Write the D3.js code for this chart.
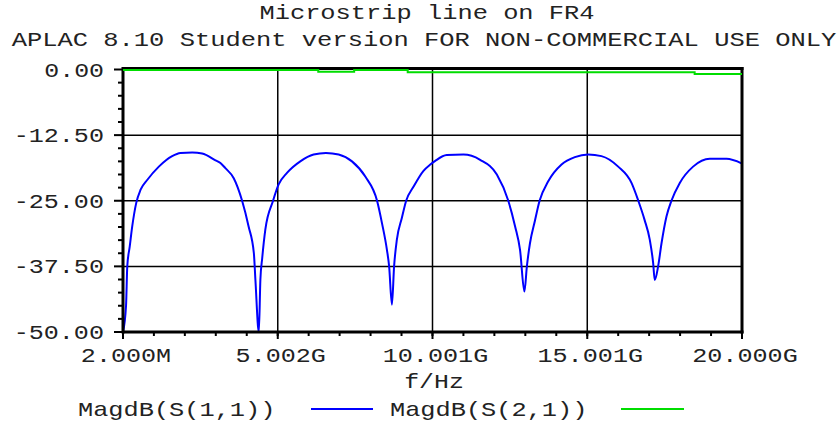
<!DOCTYPE html>
<html>
<head>
<meta charset="utf-8">
<script src="https://cdn.jsdelivr.net/npm/d3@7"></script>
<style>
  body { margin: 0; background: #fff; }
  text { font-family: "Liberation Mono", "DejaVu Sans Mono", monospace; fill: #222; }
</style>
</head>
<body>
<div id="chart"></div>
<script>
// frequency in GHz, magnitude in dB
const s11Freq = [0.002, 0.1, 0.14, 0.22, 0.30, 0.43, 0.57, 0.79, 1.16, 1.59, 1.86, 2.24, 2.56, 2.99, 3.15, 3.31,
  3.58, 3.85, 4.06, 4.23, 4.28, 4.39, 4.44, 4.50, 4.60, 4.85, 5.03, 5.30, 5.73, 6.16, 6.56, 6.97, 7.40, 7.83,
  8.21, 8.37, 8.53, 8.60, 8.69, 8.76, 8.85, 9.01, 9.15, 9.39, 9.71, 9.93, 10.09, 10.46, 11.0, 11.54, 12.08,
  12.45, 12.67, 12.83, 12.97, 13.05, 13.15, 13.31, 13.46, 13.74, 14.17, 14.6, 15.03, 15.46, 16.0, 16.43,
  16.65, 16.85, 17.02, 17.13, 17.18, 17.29, 17.40, 17.56, 17.72, 17.99, 18.42, 18.96, 19.5, 20.0];
const s11Db = [-50, -45, -37.5, -33.7, -29.9, -25.4, -22.9, -21.0, -18.5, -16.5, -15.9, -15.8, -16.0, -17.3, -17.8, -18.8,
  -20.7, -25.0, -29.9, -35.0, -40.1, -50, -40.1, -35.9, -30.5, -25.0, -21.9, -19.7, -17.5, -16.2, -15.9, -16.2, -17.5, -20.4,
  -25.0, -29.3, -34.4, -37.5, -44.8, -37.5, -32.4, -28.3, -25.0, -22.3, -19.3, -18.1, -17.4, -16.3, -16.2, -17.2, -20.0,
  -25.0, -29.9, -34.4, -42.3, -37.5, -33.1, -28.8, -25.0, -21.3, -18.1, -16.7, -16.2, -16.5, -18.5, -21.6,
  -25.0, -28.6, -32.4, -36.9, -40.1, -37.5, -33.1, -28.0, -25.0, -21.6, -18.5, -17.0, -17.0, -17.9];

const s21Freq = [0.002, 6.31, 6.31, 7.47, 7.47, 9.2, 9.2, 18.47, 18.47, 20.0];
const s21Db = [-0.1, -0.1, -0.45, -0.45, -0.1, -0.1, -0.5, -0.5, -0.85, -0.85];

const xTicks = [0.002, 5.002, 10.001, 15.001, 20.0];
const xTickLabels = ["2.000M", "5.002G", "10.001G", "15.001G", "20.000G"];
const yTicks = [0, -12.5, -25, -37.5, -50];
const yTickLabels = ["0.00", "-12.50", "-25.00", "-37.50", "-50.00"];

const seriesNames = ["MagdB(S(1,1))", "MagdB(S(2,1))"];
const seriesColors = ["#0000ff", "#00dd00"];

const width = 840;
const height = 429;
const charW = 15.3;

const x = d3.scaleLinear().domain([0.002, 20]).range([123, 742]);
const y = d3.scaleLinear().domain([-50, 0]).range([332, 69.5]);

const svg = d3.select("#chart").append("svg")
  .attr("width", width)
  .attr("height", height);

function label(str, px, py, anchor) {
  return svg.append("text")
    .attr("x", px)
    .attr("y", py)
    .attr("text-anchor", anchor || "start")
    .attr("font-size", 21)
    .attr("textLength", str.length * charW - 1.5)
    .attr("lengthAdjust", "spacingAndGlyphs")
    .text(str);
}

// titles
label("Microstrip line on FR4", 427, 19, "middle");
label("APLAC 8.10 Student version FOR NON-COMMERCIAL USE ONLY", 424, 46, "middle");

// grid
const grid = svg.append("g").attr("stroke", "#000").attr("stroke-width", 1.5);
grid.selectAll("line.v")
  .data(xTicks.slice(1, -1))
  .enter().append("line")
  .attr("x1", d => x(d)).attr("x2", d => x(d))
  .attr("y1", y(0)).attr("y2", y(-50));
grid.selectAll("line.h")
  .data(yTicks.slice(1, -1))
  .enter().append("line")
  .attr("class", "h")
  .attr("x1", x(0.002)).attr("x2", x(20))
  .attr("y1", d => y(d)).attr("y2", d => y(d));

// curves
svg.append("clipPath").attr("id", "plot")
  .append("rect")
  .attr("x", x(0.002)).attr("y", y(0) - 2)
  .attr("width", x(20) - x(0.002)).attr("height", y(-50) - y(0) + 2);

const smooth = d3.line()
  .curve(d3.curveMonotoneX)
  .x(d => x(d[0]))
  .y(d => y(d[1]));

const line = d3.line()
  .x(d => x(d[0]))
  .y(d => y(d[1]));

svg.append("path")
  .datum(s11Freq.map((f, i) => [f, s11Db[i]]))
  .attr("clip-path", "url(#plot)")
  .attr("fill", "none")
  .attr("stroke", seriesColors[0])
  .attr("stroke-width", 2)
  .attr("d", smooth);

// frame
const frame = svg.append("g").attr("stroke", "#000").attr("stroke-width", 3);
frame.append("line").attr("x1", x(0.002)).attr("x2", x(20) + 1.5).attr("y1", y(0) - 1).attr("y2", y(0) - 1);
frame.append("line").attr("x1", x(0.002)).attr("x2", x(20) + 1.5).attr("y1", y(-50)).attr("y2", y(-50));
frame.append("line").attr("x1", x(0.002)).attr("x2", x(0.002)).attr("y1", y(0) - 2.5).attr("y2", y(-50) + 1.5);
frame.append("line").attr("x1", x(20)).attr("x2", x(20)).attr("y1", y(0) - 2.5).attr("y2", y(-50) + 1.5);

svg.append("path")
  .datum(s21Freq.map((f, i) => [f, s21Db[i]]))
  .attr("fill", "none")
  .attr("stroke", seriesColors[1])
  .attr("stroke-width", 2)
  .attr("d", line);

// ticks
const ticks = svg.append("g").attr("stroke", "#000").attr("stroke-width", 2);
const yMinor = d3.range(0, -50.01, -2.5);
ticks.selectAll("line.ym")
  .data(yMinor)
  .enter().append("line")
  .attr("x1", d => yTicks.includes(d) ? x(0.002) - 9 : x(0.002) - 5)
  .attr("x2", x(0.002))
  .attr("y1", d => y(d)).attr("y2", d => y(d));
const xMinor = d3.range(1, 20);
ticks.selectAll("line.xm")
  .data(xMinor)
  .enter().append("line")
  .attr("x1", d => x(d)).attr("x2", d => x(d))
  .attr("y1", y(-50)).attr("y2", y(-50) + 4);
ticks.selectAll("line.xM")
  .data(xTicks)
  .enter().append("line")
  .attr("x1", d => x(d)).attr("x2", d => x(d))
  .attr("y1", y(-50)).attr("y2", y(-50) + 7);

// tick labels
yTicks.forEach((v, i) => label(yTickLabels[i], 104, y(v) + 7, "end"));
xTicks.forEach((v, i) => label(xTickLabels[i], x(v) + 3, 362, "middle"));

// axis title
label("f/Hz", 434, 388, "middle");

// legend
const legendX = [78, 390];
const legendLine = [[311, 373], [621, 684]];
seriesNames.forEach((name, i) => {
  label(name, legendX[i], 416);
  svg.append("line")
    .attr("x1", legendLine[i][0]).attr("x2", legendLine[i][1])
    .attr("y1", 409).attr("y2", 409)
    .attr("stroke", seriesColors[i])
    .attr("stroke-width", 2);
});
</script>
</body>
</html>
